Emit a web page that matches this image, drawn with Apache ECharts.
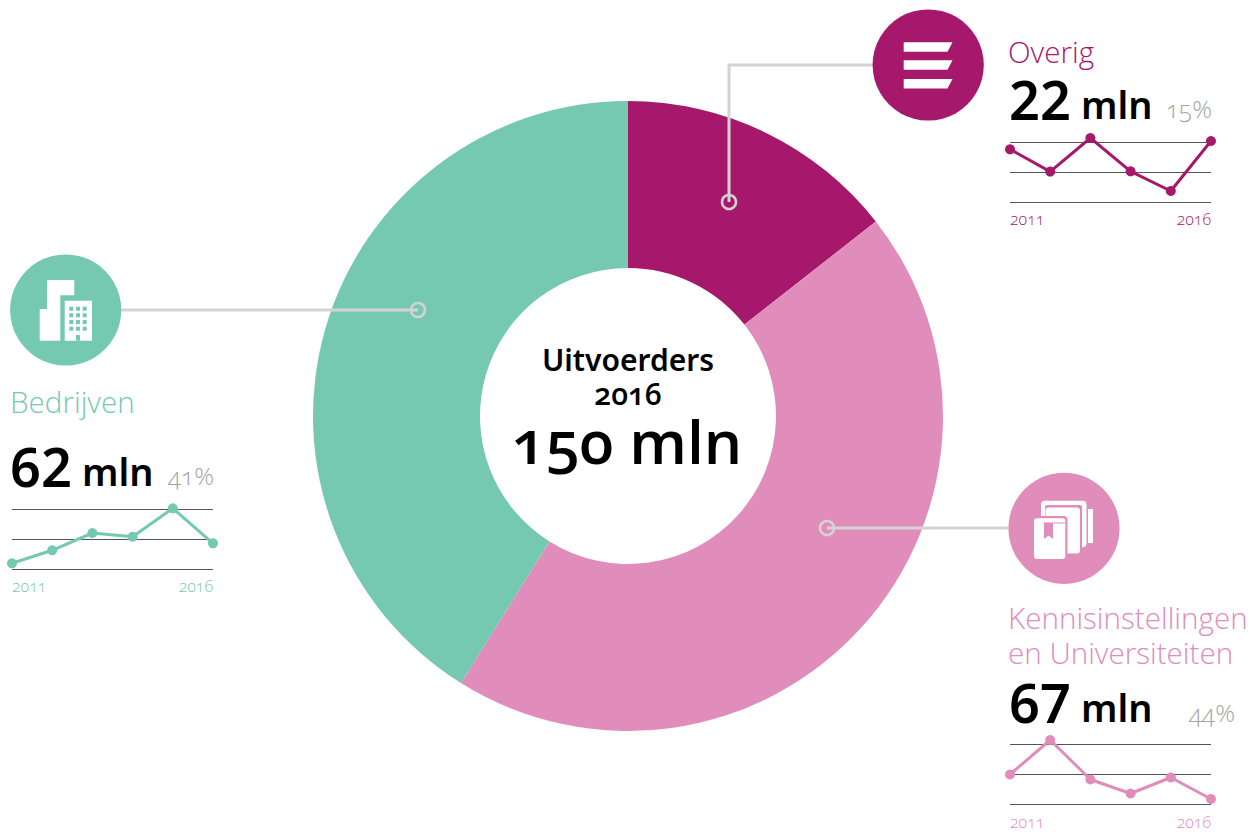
<!DOCTYPE html>
<html>
<head>
<meta charset="utf-8">
<title>Uitvoerders 2016</title>
<style>
    html, body { margin: 0; padding: 0; background: #fff; }
    #chart { width: 1258px; height: 832px; }
    /* old style figures for the light text, the big numbers stay lining */
    svg text[style*="Open Sans"] { font-variant-numeric: oldstyle-nums !important; font-feature-settings: "onum" !important; }
</style>
<script src="https://cdn.jsdelivr.net/npm/echarts@6/dist/echarts.min.js"></script>
</head>
<body>
<div id="chart"></div>
<script>
    var names = ['Overig', 'Kennisinstellingen\nen Universiteiten', 'Bedrijven']
    var amounts = [22, 67, 62]
    var sliceValues = [21.7, 67, 61.9]
    var shares = ['15%', '44%', '41%']
    var years = ['2011', '2012', '2013', '2014', '2015', '2016']
    var overigTrend = [52.7, 30.4, 64, 30.7, 11, 61]
    var kennisTrend = [30, 64.5, 25, 11, 27, 5.5]
    var bedrijvenTrend = [5.7, 18.7, 36, 32.3, 60.7, 25.7]
    var centerTitle = 'Uitvoerders'
    var centerYear = '2016'
    var centerTotal = '150 mln'

    var purple = '#a6186b'
    var pink = '#e08dbb'
    var teal = '#75c9b0'
    var leader = '#d3d3d3'
    var thin = 'Open Sans'
    var bold = 'Noto Sans'

    var trends = [overigTrend, kennisTrend, bedrijvenTrend]
    var colors = [purple, pink, teal]
    var grids = [
        { left: 1010, top: 142, width: 201, height: 60 },
        { left: 1010, top: 744.5, width: 201, height: 60 },
        { left: 12, top: 509, width: 201, height: 60 }
    ]

    var xAxes = [], yAxes = [], series = []
    series.push({
        type: 'pie',
        silent: true,
        center: [628, 416],
        radius: [148, 315],
        startAngle: 90,
        label: { show: false },
        labelLine: { show: false },
        data: sliceValues.map(function (v, i) {
            return { name: names[i], value: v, itemStyle: { color: colors[i] } }
        })
    })
    for (var i = 0; i < trends.length; i++) {
        xAxes.push({
            type: 'category',
            gridIndex: i,
            data: years,
            boundaryGap: false,
            axisLine: { show: false },
            axisTick: { show: false },
            axisLabel: {
                interval: 0,
                margin: 9,
                fontFamily: thin,
                fontSize: 16,
                fontWeight: 300,
                color: colors[i],
                alignMinLabel: 'left',
                alignMaxLabel: 'right',
                formatter: function (v) {
                    return v === years[0] || v === years[years.length - 1] ? v : ''
                }
            }
        })
        yAxes.push({
            type: 'value',
            gridIndex: i,
            min: 0,
            max: 60,
            interval: 30,
            axisLabel: { show: false },
            axisLine: { show: false },
            axisTick: { show: false },
            splitLine: { lineStyle: { color: '#555', width: 1 } }
        })
        series.push({
            type: 'line',
            xAxisIndex: i,
            yAxisIndex: i,
            data: trends[i],
            clip: false,
            silent: true,
            animation: false,
            symbol: 'circle',
            symbolSize: 10,
            lineStyle: { color: colors[i], width: 3 },
            itemStyle: { color: colors[i] }
        })
    }

    function txt(text, x, y, size, weight, color, family, align, lh) {
        return {
            type: 'text', z: 20, silent: true,
            style: {
                text: text, x: x, y: y, fill: color, textAlign: align || 'left', textVerticalAlign: 'middle',
                font: weight + ' ' + size + 'px "' + family + '"', lineHeight: lh || size
            }
        }
    }
    function rr(x, y, w, h, r, fill) {
        return { type: 'rect', z: 12, silent: true, shape: { x: x, y: y, width: w, height: h, r: r || 0 }, style: { fill: fill } }
    }
    function poly(points, fill) {
        return { type: 'polygon', z: 12, silent: true, shape: { points: points }, style: { fill: fill } }
    }
    function line(points) {
        return { type: 'polyline', z: 10, silent: true, shape: { points: points }, style: { stroke: leader, lineWidth: 3, fill: null } }
    }
    function ring(x, y) {
        return { type: 'circle', z: 10, silent: true, shape: { cx: x, cy: y, r: 7 }, style: { stroke: leader, lineWidth: 2.5, fill: null } }
    }
    function disc(x, y, fill) {
        return { type: 'circle', z: 11, silent: true, shape: { cx: x, cy: y, r: 55.6 }, style: { fill: fill } }
    }

    var shapes = [
        line([[873, 65], [729, 65], [729, 202]]), ring(729, 202),
        line([[121, 310], [418, 310]]), ring(418, 310),
        line([[1008, 528], [827, 528]]), ring(827, 528),
        disc(928.2, 65, purple), disc(65.7, 310, teal), disc(1064, 528.3, pink)
    ]

    // icon: lijstje
    ;[42.3, 60.3, 79].forEach(function (y) {
        shapes.push(poly([[903.7, y], [952.5, y], [947.5, y + 9.4], [903.7, y + 9.4]], '#fff'))
    })
    // icon: gebouwen
    shapes.push(poly([[47, 280], [74.3, 280], [74.3, 295.3], [60.3, 295.3], [60.3, 340.7], [39.7, 340.7], [39.7, 309], [47, 309]], '#fff'))
    shapes.push(rr(64.7, 300.7, 27.3, 40, 0, '#fff'))
    ;[69.3, 76, 82.7].forEach(function (x) {
        ;[306.7, 313.3, 320, 326.7].forEach(function (y) {
            shapes.push(rr(x, y, 4, 4, 0, teal))
        })
    })
    shapes.push(rr(76, 335, 4, 5.7, 0, teal))
    // icon: boeken
    shapes.push(rr(1088, 509, 5, 34, 0, '#fff'))
    shapes.push(rr(1041, 500.7, 45.5, 46.5, 4, '#fff'))
    shapes.push(rr(1045, 505, 37, 50, 2, pink))
    shapes.push(rr(1045.5, 507.5, 34.5, 46, 3, '#fff'))
    shapes.push(rr(1032.5, 516, 35, 45, 4, pink))
    shapes.push(rr(1034, 518.3, 31.3, 40.7, 3, '#fff'))
    shapes.push(poly([[1044, 522.5], [1065.5, 522.5], [1065.5, 523.5], [1053, 523.5], [1053, 539], [1048.5, 535.5], [1044, 539]], pink))

    // tekst
    shapes.push(txt(centerTitle, 628, 359, 30, 600, '#000', bold, 'center'))
    shapes.push(txt(centerYear, 628, 393, 30, 600, '#000', thin, 'center'))
    shapes.push(txt(centerTotal, 627, 440, 60.5, 600, '#000', thin, 'center'))

    shapes.push(txt(names[0], 1008, 51, 29.6, 300, purple, thin))
    shapes.push(txt(String(amounts[0]), 1009, 99, 54, 600, '#000', bold))
    shapes.push(txt('mln', 1081, 104, 38, 600, '#000', bold))
    shapes.push(txt(shares[0], 1212, 108, 24.5, 300, '#a3a3a3', thin, 'right'))

    shapes.push(txt(names[2], 10, 401, 29.6, 300, teal, thin))
    shapes.push(txt(String(amounts[2]), 10, 466, 54, 600, '#000', bold))
    shapes.push(txt('mln', 82, 471, 38, 600, '#000', bold))
    shapes.push(txt(shares[2], 214, 475, 24.5, 300, '#a3a3a3', thin, 'right'))

    shapes.push(txt(names[1], 1008, 635, 29.6, 300, pink, thin, 'left', 35))
    shapes.push(txt(String(amounts[1]), 1009, 702, 54, 600, '#000', bold))
    shapes.push(txt('mln', 1081, 707, 38, 600, '#000', bold))
    shapes.push(txt(shares[1], 1235, 712, 24.5, 300, '#a3a3a3', thin, 'right'))

    var myChart = echarts.init(document.getElementById('chart'), null, { renderer: 'svg' })
    myChart.setOption({
        backgroundColor: '#fff',
        animation: false,
        grid: grids,
        xAxis: xAxes,
        yAxis: yAxes,
        series: series,
        graphic: { elements: shapes }
    })
</script>
</body>
</html>
